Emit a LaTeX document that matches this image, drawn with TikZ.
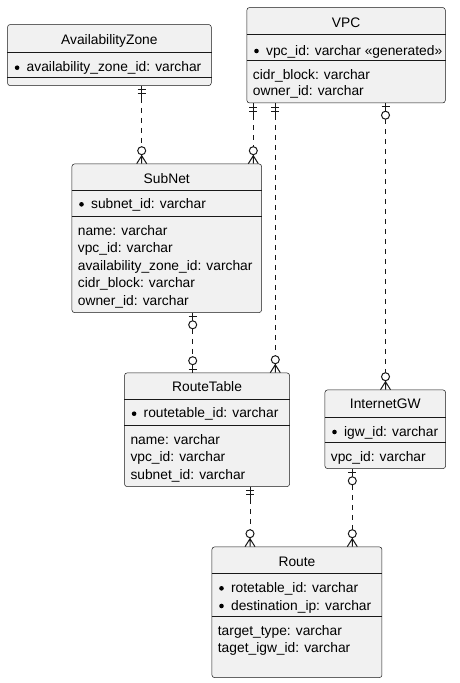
\documentclass[tikz,border=0pt]{standalone}
\usepackage{fontspec}
\setmainfont{Liberation Sans}
\definecolor{entfill}{HTML}{F1F1F1}
\definecolor{ink}{HTML}{181818}
\tikzset{
 ent/.style={draw=ink, line width=0.5pt, fill=entfill, rounded corners=2.5pt, inner sep=0pt, anchor=north west},
 tdiv/.style={draw=ink, line width=0.5pt},
 bdiv/.style={draw=ink, line width=1pt},
 txt/.style={inner sep=0pt, font=\fontsize{13.8}{16}\selectfont, text=black},
 bul/.style={circle, fill=black, inner sep=0pt, minimum size=4.6pt},
 rel/.style={draw=ink, line width=1pt, dash pattern=on 5pt off 5pt},
 mk/.style={draw=ink, line width=1pt},
 pics/exone/.style={code={\draw[mk] (0,0) -- (0,12) (-4,4) -- (4,4) (-4,8) -- (4,8);}},
 pics/zeroone/.style={code={\draw[mk] (0,0) -- (0,8) (-4,3.5) -- (4,3.5); \draw[mk, fill=white] (0,12) circle[radius=4pt];}},
 pics/zeromany/.style={code={\draw[mk] (-5,0) -- (0,8) -- (5,0) (0,0) -- (0,9); \draw[mk, fill=white] (0,13) circle[radius=4pt];}},
}
\newcommand\keyattr[4]{%
 \node[bul] (#1b) at ({#2+9.8},{#3-4}) {};
 \node[txt,anchor=base west] (#1) at ({#2+19.2},#3) {#4};}
\newcommand\plainattr[4]{%
 \node[txt,anchor=base west] (#1) at ({#2+6},#3) {#4};}
\begin{document}
\begin{tikzpicture}[x=1pt,y=-1pt]
\useasboundingbox[fill=white] (0,0) rectangle (460,683);

% AvailabilityZone
\node[ent, minimum width=203.7pt, minimum height=61pt] (az) at (7.3,24.3) {};
\node[txt,anchor=base] (azt) at (az.north |- 0,44.7) {AvailabilityZone};
\draw[tdiv] (az.west |- 0,52.3) -- (az.east |- 0,52.3);
\keyattr{aza}{7.3}{71.7}{availability\_zone\_id: varchar}
\draw[tdiv] (az.west |- 0,77.3) -- (az.east |- 0,77.3);

% VPC
\node[ent, minimum width=198.3pt, minimum height=95.4pt] (vpc) at (246.7,7.3) {};
\node[txt,anchor=base] (vpct) at (vpc.north |- 0,27.7) {VPC};
\draw[tdiv] (vpc.west |- 0,34) -- (vpc.east |- 0,34);
\keyattr{vpca}{246.7}{55}{vpc\_id: varchar «generated»}
\draw[bdiv] (vpc.west |- 0,60.3) -- (vpc.east |- 0,60.3);
\plainattr{vpcb}{246.7}{79}{cidr\_block: varchar}
\plainattr{vpcc}{246.7}{95.7}{owner\_id: varchar}

% SubNet
\node[ent, minimum width=189.6pt, minimum height=148.6pt] (sn) at (71.7,163.7) {};
\node[txt,anchor=base] (snt) at (sn.north |- 0,183.3) {SubNet};
\draw[tdiv] (sn.west |- 0,190.7) -- (sn.east |- 0,190.7);
\keyattr{sna}{71.7}{208.3}{subnet\_id: varchar}
\draw[bdiv] (sn.west |- 0,216.3) -- (sn.east |- 0,216.3);
\plainattr{snb}{71.7}{235}{name: varchar}
\plainattr{snc}{71.7}{252.3}{vpc\_id: varchar}
\plainattr{snd}{71.7}{270}{availability\_zone\_id: varchar}
\plainattr{sne}{71.7}{287.7}{cidr\_block: varchar}
\plainattr{snf}{71.7}{305}{owner\_id: varchar}

% RouteTable
\node[ent, minimum width=165pt, minimum height=113.6pt] (rt) at (124.3,372.7) {};
\node[txt,anchor=base] (rtt) at (rt.north |- 0,391.7) {RouteTable};
\draw[tdiv] (rt.west |- 0,399.3) -- (rt.east |- 0,399.3);
\keyattr{rta}{124.3}{417.7}{routetable\_id: varchar}
\draw[bdiv] (rt.west |- 0,425.3) -- (rt.east |- 0,425.3);
\plainattr{rtb}{124.3}{444.3}{name: varchar}
\plainattr{rtc}{124.3}{461}{vpc\_id: varchar}
\plainattr{rtd}{124.3}{479}{subnet\_id: varchar}

% InternetGW
\node[ent, minimum width=120.6pt, minimum height=78.6pt] (igw) at (324.7,389.7) {};
\node[txt,anchor=base] (igwt) at (igw.north |- 0,408.7) {InternetGW};
\draw[tdiv] (igw.west |- 0,417.3) -- (igw.east |- 0,417.3);
\keyattr{igwa}{324.7}{436}{igw\_id: varchar}
\draw[bdiv] (igw.west |- 0,442.3) -- (igw.east |- 0,442.3);
\plainattr{igwb}{324.7}{461.3}{vpc\_id: varchar}

% Route
\node[ent, minimum width=170pt, minimum height=130.6pt] (route) at (211.7,546.7) {};
\node[txt,anchor=base] (routet) at (route.north |- 0,566) {Route};
\draw[tdiv] (route.west |- 0,573.3) -- (route.east |- 0,573.3);
\keyattr{routea}{211.7}{592.3}{rotetable\_id: varchar}
\keyattr{routeb}{211.7}{610}{destination\_ip: varchar}
\draw[bdiv] (route.west |- 0,616) -- (route.east |- 0,616);
\plainattr{routec}{211.7}{635.7}{target\_type: varchar}
\plainattr{routed}{211.7}{652.3}{taget\_igw\_id: varchar}

% Relations
\draw[rel, shorten <=12pt, shorten >=17pt] (az.south -| 141.7,0) -- (sn.north -| 141.7,0);
\pic at (az.south -| 141.7,0) {exone};
\pic[yscale=-1] at (sn.north -| 141.7,0) {zeromany};

\draw[rel, shorten <=12pt, shorten >=17pt] (vpc.south -| 253.3,0) -- (sn.north -| 253.3,0);
\pic at (vpc.south -| 253.3,0) {exone};
\pic[yscale=-1] at (sn.north -| 253.3,0) {zeromany};

\draw[rel, shorten <=12pt, shorten >=17pt] (vpc.south -| 275.3,0) -- (rt.north -| 275.3,0);
\pic at (vpc.south -| 275.3,0) {exone};
\pic[yscale=-1] at (rt.north -| 275.3,0) {zeromany};

\draw[rel, shorten <=16pt, shorten >=17pt] (vpc.south -| 385.5,0) -- (igw.north -| 385.5,0);
\pic at (vpc.south -| 385.5,0) {zeroone};
\pic[yscale=-1] at (igw.north -| 385.5,0) {zeromany};

\draw[rel, shorten <=16pt, shorten >=16pt] (sn.south -| 192.7,0) -- (rt.north -| 192.7,0);
\pic at (sn.south -| 192.7,0) {zeroone};
\pic[yscale=-1] at (rt.north -| 192.7,0) {zeroone};

\draw[rel, shorten <=12pt, shorten >=17pt] (rt.south -| 250,0) -- (route.north -| 250,0);
\pic at (rt.south -| 250,0) {exone};
\pic[yscale=-1] at (route.north -| 250,0) {zeromany};

\draw[rel, shorten <=16pt, shorten >=17pt] (igw.south -| 352.3,0) -- (route.north -| 352.3,0);
\pic at (igw.south -| 352.3,0) {zeroone};
\pic[yscale=-1] at (route.north -| 352.3,0) {zeromany};
\end{tikzpicture}
\end{document}
